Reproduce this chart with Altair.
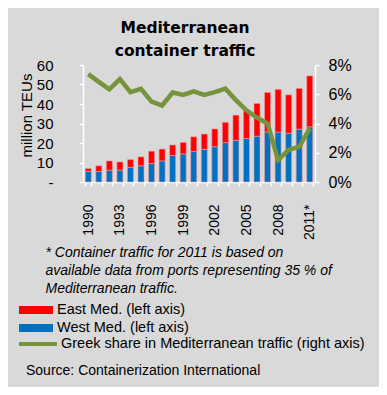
import altair as alt
import pandas as pd

years = ["1990", "1991", "1992", "1993", "1994", "1995", "1996", "1997", "1998", "1999",
         "2000", "2001", "2002", "2003", "2004", "2005", "2006", "2007", "2008", "2009",
         "2010", "2011*"]
west_med = [5.5, 5.4, 6.1, 6.1, 7.5, 8.3, 9.5, 10.8, 13.6, 14.4, 15.6, 16.8, 18.1, 20.2,
            21.4, 22.3, 23.5, 25.7, 25.6, 25.0, 27.1, 28.3]
east_med = [1.4, 2.9, 4.7, 4.2, 4.0, 4.6, 6.3, 6.1, 5.4, 5.9, 7.6, 7.8, 9.1, 10.4,
            12.9, 14.2, 16.8, 20.2, 21.9, 19.7, 20.9, 26.1]
greek_share = [7.38, 6.85, 6.33, 7.03, 6.14, 6.37, 5.5, 5.23, 6.12, 5.96, 6.19, 5.96, 6.14, 6.38,
               5.6, 4.9, 4.4, 4.0, 1.5, 2.2, 2.4, 3.65]
shown_year_labels = ["1990", "1993", "1996", "1999", "2002", "2005", "2008", "2011*"]
series_names = ["East Med. (left axis)", "West Med. (left axis)"]
line_name = "Greek share in Mediterranean traffic (right axis)"
left_ticks = [0, 10, 20, 30, 40, 50, 60]
right_ticks = [0, 2, 4, 6, 8]
title_lines = ["Mediterranean", "container traffic"]
footnote_lines = ["* Container traffic for 2011 is based on",
                  "available data from ports representing 35 % of",
                  "Mediterranean traffic."]
source_text = "Source: Containerization International"

bars_df = pd.DataFrame(
    [{"year": y, "series": series_names[1], "value": w, "ord": 0} for y, w in zip(years, west_med)]
    + [{"year": y, "series": series_names[0], "value": e, "ord": 1} for y, e in zip(years, east_med)]
)
line_df = pd.DataFrame({"year": years, "share": greek_share, "name": [line_name] * len(years)})
src_df = pd.DataFrame({"t": [source_text]})

FONT = "Liberation Sans"
label_js = "[" + ",".join("'%s'" % s for s in shown_year_labels) + "]"

x_axis = alt.Axis(
    labelExpr="indexof(%s, datum.value) >= 0 ? datum.value : ''" % label_js,
    labelAngle=-90, labelAlign="right", labelBaseline="middle", labelPadding=18,
    labelFont=FONT, labelFontSize=14, labelColor="black",
    tickSize=4, tickColor="white", tickWidth=1.5, tickBand="extent",
    domainColor="white", domainWidth=1.5,
    title=footnote_lines, titleFont=FONT, titleFontSize=14, titleFontStyle="italic",
    titleFontWeight="normal", titleColor="black", titleAnchor="start", titleAlign="left",
    titleX=-38, titleY=63, titleBaseline="top", titleLineHeight=18,
)
x_scale = alt.Scale(paddingInner=0.43, paddingOuter=0.215)

bars = alt.Chart(bars_df).mark_bar(stroke="#f39aa2", strokeWidth=1, strokeOpacity=0.6).encode(
    x=alt.X("year:N", sort=years, scale=x_scale, axis=x_axis),
    y=alt.Y("value:Q", stack="zero",
            scale=alt.Scale(domain=[0, 60], nice=False),
            axis=alt.Axis(values=left_ticks,
                          labelExpr="datum.value == 0 ? '-\u00a0\u00a0\u00a0' : datum.label",
                          grid=False, tickSize=4, tickColor="white", tickWidth=1.5,
                          domainColor="white", domainWidth=1.5, labelPadding=26,
                          labelFont=FONT, labelFontSize=15, labelColor="black",
                          title="million TEUs", titleFont=FONT, titleFontSize=15,
                          titleFontWeight="normal", titleColor="black", titleAngle=-90,
                          titleX=-52, titleY=50, titleAlign="center",
                          titleBaseline="alphabetic")),
    color=alt.Color("series:N",
                    scale=alt.Scale(domain=series_names, range=["#FF0000", "#0070C0"]),
                    legend=alt.Legend(orient="none", legendX=-64, legendY=236, title=None,
                                      symbolType="M-1,-0.235H1V0.235H-1Z", symbolSize=1156,
                                      symbolStrokeWidth=0, clipHeight=18, rowPadding=0,
                                      labelOffset=4, labelFont=FONT, labelFontSize=14.5,
                                      labelColor="black", labelLimit=400, padding=0)),
    order=alt.Order("ord:Q"),
)

line = alt.Chart(line_df).mark_line(strokeWidth=4.5).encode(
    x=alt.X("year:N", sort=years, scale=x_scale, axis=x_axis),
    y=alt.Y("share:Q", scale=alt.Scale(domain=[0, 8], nice=False),
            axis=alt.Axis(orient="right", values=right_ticks,
                          labelExpr="datum.value + '%'", grid=False, tickSize=4,
                          tickColor="white", tickWidth=1.5, domainColor="white",
                          domainWidth=1.5, labelPadding=9, labelFont=FONT,
                          labelFontSize=16, labelColor="black", title=None)),
    stroke=alt.Stroke("name:N", scale=alt.Scale(range=["#77933C"]),
                      legend=alt.Legend(orient="none", legendX=-66, legendY=270, title=None,
                                        symbolType="stroke", symbolSize=1444,
                                        symbolStrokeWidth=4, clipHeight=18, rowPadding=0,
                                        labelOffset=2, labelFont=FONT, labelFontSize=14.5,
                                        labelColor="black", labelLimit=400, padding=0)),
)

source = alt.Chart(src_df).mark_text(align="left", baseline="middle", font=FONT,
                                     fontSize=14, color="black").encode(
    x=alt.value(-57), y=alt.value(306), text="t:N")

chart = alt.layer(bars, line, source).resolve_scale(y="independent").properties(
    width=232, height=117,
    padding={"left": 75, "top": 57, "right": 64, "bottom": 205},
    autosize=alt.AutoSizeParams(type="none"),
    title=alt.TitleParams(title_lines, font="DejaVu Sans", fontSize=15.5, fontWeight="bold",
                          color="black", anchor="middle", dx=-14, dy=10, offset=8,
                          lineHeight=23),
).configure(background="#d9d9d9").configure_view(stroke=None)

chart.save("out.html", embed_options={"renderer": "svg", "actions": False})
